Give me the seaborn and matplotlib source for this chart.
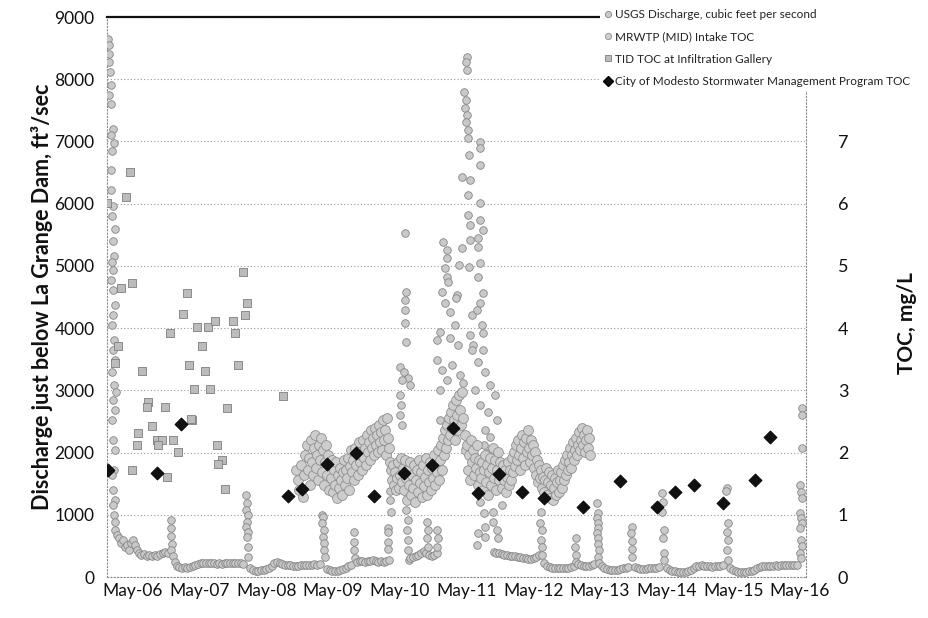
import numpy as np
import matplotlib
matplotlib.use("Agg")
import matplotlib.pyplot as plt
from matplotlib.lines import Line2D
import seaborn as sns

sns.set_theme(style="white")
plt.rcParams["font.family"] = ["Lato", "DejaVu Sans"]

# ---------------- data (decimal years) ----------------
tick_years = [2006, 2007, 2008, 2009, 2010, 2011, 2012, 2013, 2014, 2015, 2016]
tick_labels = ["May-06", "May-07", "May-08", "May-09", "May-10", "May-11",
               "May-12", "May-13", "May-14", "May-15", "May-16"]

# USGS discharge, cfs
flow_06_yr = [2005.96, 2005.97, 2005.98, 2005.97, 2005.99, 2006.00, 2005.98, 2006.01, 2006.03, 2006.01,
              2006.05, 2006.02, 2006.00, 2006.01, 2006.04, 2006.02, 2006.06, 2006.03, 2006.05, 2006.02,
              2006.04, 2006.01, 2006.03, 2006.06, 2006.04, 2006.02, 2006.05, 2006.03, 2006.06, 2006.02,
              2006.05, 2006.08, 2006.03, 2006.06, 2006.02, 2006.04, 2006.07, 2006.05, 2006.02, 2006.04,
              2006.06,
              2006.04, 2006.05, 2006.06, 2006.07, 2006.09, 2006.12, 2006.15, 2006.18, 2006.21, 2006.24,
              2006.27, 2006.30, 2006.33, 2006.36, 2006.39,
              2006.42, 2006.46, 2006.50, 2006.54, 2006.58, 2006.62, 2006.66, 2006.70, 2006.74, 2006.78,
              2006.82, 2006.86,
              2006.90, 2006.91, 2006.90, 2006.92, 2006.91, 2006.93]
flow_06_cfs = [8650, 8550, 8400, 8280, 8120, 7900, 7750, 7600, 7200, 7100,
               6980, 6850, 6540, 6220, 5960, 5800, 5590, 5400, 5160, 5060,
               4930, 4770, 4610, 4370, 4210, 4050, 3810, 3650, 3490, 3290,
               3090, 2970, 2840, 2680, 2520, 2200, 2040, 1720, 1640, 1400,
               1240,
               1160, 1000, 880, 760, 670, 630, 550, 600, 480, 510,
               430, 550, 600, 510, 430,
               390, 350, 370, 340, 355, 340, 355, 345, 370, 390,
               400, 380,
               920, 790, 660, 530, 430, 340]

flow_07_yr = [2006.96, 2006.99, 2007.03, 2007.07, 2007.11, 2007.15, 2007.19, 2007.23, 2007.27, 2007.31,
              2007.35, 2007.39, 2007.43, 2007.47,
              2007.51, 2007.55, 2007.59, 2007.63, 2007.67, 2007.71, 2007.75, 2007.79, 2007.83, 2007.87,
              2007.91, 2007.95, 2007.99,
              2008.03, 2008.04, 2008.03, 2008.05, 2008.04, 2008.03, 2008.05, 2008.04, 2008.05, 2008.06]
flow_07_cfs = [240, 180, 160, 145, 160, 145, 160, 175, 190, 210,
               225, 230, 220, 230,
               220, 225, 215, 225, 215, 225, 230, 220, 225, 230,
               220, 230, 215,
               1320, 1190, 1080, 1000, 880, 800, 720, 640, 480, 320]

flow_08_yr = [2008.09, 2008.13, 2008.17, 2008.21, 2008.25, 2008.29, 2008.33, 2008.37, 2008.41, 2008.45,
              2008.49, 2008.53, 2008.57, 2008.61,
              2008.65, 2008.69, 2008.73, 2008.77, 2008.81, 2008.85, 2008.89, 2008.93, 2008.97, 2009.01,
              2009.05, 2009.09, 2009.13,
              2009.17, 2009.18, 2009.17, 2009.19, 2009.18, 2009.20, 2009.19, 2009.21]
flow_08_cfs = [145, 110, 100, 100, 110, 110, 125, 145, 180, 225,
               240, 225, 210, 190,
               190, 195, 180, 180, 180, 185, 190, 190, 195, 200,
               205, 200, 210,
               1000, 960, 870, 760, 640, 550, 430, 320]

flow_09_yr = [2009.24, 2009.28, 2009.32, 2009.36, 2009.40, 2009.44, 2009.48, 2009.52, 2009.56, 2009.60,
              2009.64, 2009.65, 2009.64, 2009.66,
              2009.69, 2009.73, 2009.77, 2009.81, 2009.85, 2009.89, 2009.93, 2009.97, 2010.01, 2010.05,
              2010.09, 2010.13,
              2010.15, 2010.16, 2010.15, 2010.16, 2010.17]
flow_09_cfs = [130, 110, 100, 95, 100, 110, 130, 150, 175, 195,
               720, 560, 430, 300,
               240, 255, 255, 240, 255, 255, 270, 255, 240, 255,
               240, 250,
               790, 730, 570, 450, 270]

flow_10_yr = [2010.19, 2010.18, 2010.20, 2010.33, 2010.35, 2010.33, 2010.36, 2010.33, 2010.39, 2010.45,
              2010.36, 2010.48,
              2010.41, 2010.42, 2010.41, 2010.41, 2010.41, 2010.42, 2010.44, 2010.43, 2010.45, 2010.44,
              2010.46, 2010.45, 2010.47,
              2010.49, 2010.53, 2010.57, 2010.61, 2010.65, 2010.69, 2010.73, 2010.77, 2010.81, 2010.85,
              2010.89,
              2010.74, 2010.75, 2010.74, 2010.76, 2010.89, 2010.90, 2010.89]
flow_10_cfs = [1380, 1240, 1050, 2920, 2760, 2600, 2440, 3370, 3290, 3200,
               3170, 3090,
               5530, 4580, 4450, 4290, 4080, 3780, 1240, 1080, 920, 760,
               600, 440, 280,
               305, 320, 340, 350, 385, 420, 390, 350, 340, 360,
               380,
               880, 760, 630, 480, 760, 630, 480]

flow_11_yr = [2011.34, 2011.33, 2011.34, 2011.30, 2011.33, 2011.31, 2011.34, 2011.33, 2011.36, 2011.36,
              2011.54, 2011.54, 2011.37, 2011.54, 2011.27, 2011.39, 2011.36, 2011.54, 2011.36, 2011.39,
              2011.54, 2011.58, 2011.51, 2011.39, 2010.98, 2011.04, 2011.27, 2011.51, 2011.04, 2011.01,
              2011.04, 2011.22, 2011.37, 2011.54, 2011.51, 2011.06, 2010.97, 2011.19, 2011.18, 2011.01,
              2011.58, 2011.54, 2011.42, 2011.09, 2011.16, 2011.57, 2011.58, 2010.94, 2011.09, 2011.39,
              2011.49, 2010.89, 2011.21, 2011.43, 2011.58, 2010.89, 2010.97, 2011.04, 2011.12, 2011.24,
              2011.28, 2011.42, 2011.51, 2011.61, 2011.69, 2011.76, 2011.46, 2010.94, 2010.94, 2011.54,
              2011.66, 2011.79, 2011.61, 2011.69, 2011.60, 2011.64, 2011.58, 2011.54, 2011.60, 2011.61,
              2011.61, 2011.73, 2011.73, 2011.79, 2011.80, 2011.87, 2011.49, 2011.51]
flow_11_cfs = [8360, 8280, 8150, 7790, 7670, 7540, 7420, 7310, 7180, 7050,
               6990, 6890, 6780, 6620, 6430, 6380, 6140, 6010, 5820, 5660,
               5740, 5580, 5450, 5420, 5380, 5250, 5290, 5300, 5130, 4970,
               4820, 5010, 4980, 5050, 4820, 4740, 4580, 4530, 4480, 4400,
               4560, 4400, 4210, 4260, 4050, 4050, 3920, 3940, 3840, 3890,
               4290, 3810, 3730, 3730, 3650, 3490, 3330, 3170, 3410, 3250,
               3120, 3650, 3460, 3290, 3090, 2920, 3000, 3000, 2520, 2760,
               2650, 2520, 2360, 2250, 2120, 1990, 1560, 1210, 1030, 800,
               640, 1050, 880, 760, 630, 1160, 510, 710]

flow_12_yr = [2011.74, 2011.78, 2011.82, 2011.86, 2011.90, 2011.94, 2011.98, 2012.02, 2012.06, 2012.10,
              2012.14, 2012.18, 2012.22, 2012.26, 2012.30, 2012.34, 2012.38, 2012.42,
              2012.45, 2012.44, 2012.46, 2012.45, 2012.47, 2012.46,
              2012.50, 2012.54, 2012.58, 2012.62, 2012.66, 2012.70, 2012.74, 2012.78, 2012.82, 2012.86,
              2012.90, 2012.94,
              2012.97, 2012.96, 2012.98, 2012.97,
              2013.01, 2013.05, 2013.09, 2013.13, 2013.17, 2013.21, 2013.25]
flow_12_cfs = [400, 385, 390, 370, 360, 350, 345, 335, 330, 320,
               325, 310, 300, 295, 290, 300, 320, 350,
               1050, 870, 750, 600, 480, 350,
               225, 180, 160, 145, 140, 145, 140, 150, 145, 150,
               160, 180,
               630, 480, 350, 240,
               210, 195, 180, 180, 180, 195, 210]

flow_13_yr = [2013.29, 2013.30, 2013.29, 2013.31, 2013.30, 2013.29, 2013.31, 2013.30, 2013.32, 2013.31,
              2013.32,
              2013.36, 2013.40, 2013.44, 2013.48, 2013.52, 2013.56, 2013.60, 2013.64, 2013.68, 2013.72,
              2013.76,
              2013.81, 2013.80, 2013.82, 2013.81, 2013.82,
              2013.86, 2013.90, 2013.94, 2013.98, 2014.02, 2014.06, 2014.10, 2014.14, 2014.18, 2014.22,
              2014.27, 2014.28, 2014.27, 2014.29, 2014.28, 2014.29, 2014.30]
flow_13_cfs = [1190, 1030, 950, 870, 790, 700, 620, 530, 430, 320,
               220,
               180, 150, 130, 120, 110, 110, 120, 130, 145, 150,
               160,
               800, 700, 580, 450, 320,
               160, 145, 135, 130, 135, 140, 145, 145, 150, 160,
               1350, 1200, 1040, 750, 630, 390, 270]

flow_14_yr = [2014.34, 2014.38, 2014.42, 2014.46, 2014.50, 2014.54, 2014.58, 2014.62, 2014.66, 2014.70,
              2014.74, 2014.78, 2014.82, 2014.86, 2014.90,
              2014.94, 2014.98, 2015.02, 2015.06, 2015.10, 2015.14, 2015.18,
              2015.24, 2015.23, 2015.25, 2015.24, 2015.25, 2015.24, 2015.26,
              2015.29, 2015.33, 2015.37, 2015.41, 2015.45, 2015.49, 2015.53, 2015.57, 2015.61, 2015.65,
              2015.69, 2015.73, 2015.77, 2015.81, 2015.85,
              2015.89, 2015.93, 2015.97, 2016.01, 2016.05, 2016.09, 2016.13, 2016.17, 2016.21, 2016.25,
              2016.29,
              2016.36, 2016.37, 2016.36, 2016.34, 2016.35, 2016.36, 2016.34, 2016.35, 2016.36, 2016.34,
              2016.35, 2016.36, 2016.34, 2016.35]
flow_14_cfs = [145, 110, 95, 90, 85, 80, 80, 85, 90, 110,
               140, 170, 180, 185, 180,
               175, 170, 165, 170, 175, 180, 185,
               1430, 1380, 870, 720, 600, 430, 270,
               145, 110, 95, 80, 75, 75, 80, 90, 100, 120,
               140, 160, 175, 180, 180,
               175, 180, 185, 180, 185, 190, 190, 195, 190, 190,
               195,
               2720, 2600, 2070, 1480, 1370, 1270, 1030, 950, 870, 780,
               600, 500, 390, 300]

# MRWTP (MID) intake TOC, mg/L - regular samples starting at mrwtp_start
mrwtp_start = 2008.775
mrwtp_step = 0.015
nan = float("nan")
mrwtp_toc = [1.72, nan, 1.56, 1.40, nan, 1.80, nan, 1.29, 1.64, 1.96,
             nan, 2.12, 1.72, 1.91, 1.48, 2.20, 1.85, 1.64, 2.07, 2.28,
             1.75, 1.96, 1.56, 2.12, 1.88, 2.23, 1.69, 2.04, 1.48, 1.85,
             2.12, 1.64, 1.96, 1.40, 1.80, 1.59, 1.88, 1.37, 1.72, 1.48,
             1.85, 1.27, 1.64, 1.43, 1.75, 1.56, 1.32, 1.69, 1.88, 1.48,
             1.72, 1.59, 1.91, 1.40, 1.78, 2.04, 1.69, 1.88, 1.56, 2.07,
             1.80, 2.01, 1.64, 2.17, 1.85, 1.96, 1.72, 2.20, 1.91, 2.07,
             1.80, 2.28, 2.01, 2.17, 1.88, 2.36, 2.07, 2.23, 1.96, 2.39,
             2.12, 2.28, 2.01, 2.44, 2.17, 2.33, 2.04, 2.52, 2.20, 2.36,
             1.96, 2.56, 2.23, 2.07, 1.85, 1.72, 1.56, 1.80, 1.48, 1.69,
             1.40, 1.59, 1.85, 1.43, 1.64, 1.91, 1.53, 1.75, 1.40, 1.88,
             1.59, 1.24, 1.72, 1.48, 1.85, 1.32, 1.64, 1.43, 1.80, 1.21,
             1.56, 1.72, 1.37, 1.88, 1.51, 1.69, 1.29, 1.80, 1.46, 1.61,
             1.91, 1.32, 1.72, 1.53, 1.85, 1.40, 1.75, 1.59, 1.96, 1.48,
             1.80, 1.69, 2.04, 1.56, 1.88, 2.12, 1.72, 2.23, 1.96, 2.36,
             2.07, 2.44, 2.20, 2.56, 2.28, 2.65, 2.39, 2.77, 2.52, 2.20,
             2.85, 2.60, 2.36, 2.93, 2.68, 2.44, 2.97, 2.56, nan, 2.28,
             2.04, 2.12, 1.72, 1.96, 1.56, 2.20, 1.85, 2.04, 1.64, 1.91,
             1.75, 2.12, 1.48, 1.88, 1.69, 1.59, 1.85, 1.40, 1.72, 1.96,
             1.53, 1.80, 1.32, 1.69, 1.91, 1.48, 1.75, 2.07, 1.59, 1.88,
             1.40, 1.72, 2.01, 1.56, 1.85, 1.64, 1.43, 1.80, 1.56, 1.72,
             1.37, 1.61, 1.85, 1.48, 1.72, 1.56, 1.91, 1.69, 2.01, 1.78,
             2.12, 1.88, 2.20, 1.96, 1.72, 2.07, 2.28, 1.91, 2.17, 1.80,
             2.23, 2.01, 2.36, 2.07, 1.85, 2.20, 1.96, 2.12, 1.75, 2.01,
             1.64, 1.88, 1.53, 1.80, 1.59, 1.72, 1.43, 1.61, 1.37, 1.56,
             1.75, 1.32, 1.53, 1.69, 1.27, 1.48, 1.64, 1.24, 1.43, 1.59,
             1.32, 1.53, 1.72, 1.37, 1.56, 1.69, 1.43, 1.80, 1.56, 1.88,
             1.64, 1.96, 1.72, 1.85, 2.07, 1.75, 1.96, 2.17, 1.88, 2.04,
             2.23, 1.96, 2.12, 2.33, 2.04, 2.20, 2.39, 2.12, 2.28, 2.01,
             2.20, 2.36, 2.07, 2.23, 1.96]

# TID TOC at infiltration gallery, mg/L
tid_yr = [2005.95, 2006.29, 2006.23, 2006.32, 2006.16, 2007.14, 2007.98, 2008.04, 2008.01, 2007.08,
          2007.29, 2007.46, 2007.56, 2007.83, 2007.86, 2006.89, 2007.37, 2006.11, 2007.91, 2007.17,
          2007.41, 2006.47, 2006.06, 2007.25, 2007.49, 2008.58, 2006.56, 2006.54, 2006.81, 2007.74,
          2007.22, 2006.62, 2006.41, 2006.69, 2006.77, 2006.93, 2006.39, 2006.71, 2007.01, 2007.59,
          2007.67, 2007.61, 2006.32, 2006.84, 2007.71, 2007.20]
tid_toc = [6.01, 6.51, 6.11, 4.72, 4.64, 4.56, 4.90, 4.40, 4.21, 4.23,
           4.02, 4.02, 4.11, 4.11, 3.92, 3.92, 3.71, 3.71, 3.41, 3.41,
           3.31, 3.31, 3.44, 3.02, 3.02, 2.91, 2.81, 2.73, 2.73, 2.72,
           2.52, 2.43, 2.31, 2.20, 2.20, 2.20, 2.12, 2.12, 2.01, 2.12,
           1.88, 1.82, 1.72, 1.61, 1.41, 2.54]

# City of Modesto Stormwater Management Program TOC, mg/L
city_yr = [2005.96, 2006.70, 2007.06, 2008.65, 2008.86, 2009.24, 2009.67, 2009.94, 2010.39, 2010.81,
           2011.13, 2011.50, 2011.82, 2012.16, 2012.49, 2013.08, 2013.63, 2014.19, 2014.46, 2014.74,
           2015.18, 2015.66, 2015.88]
city_toc = [1.72, 1.67, 2.46, 1.30, 1.41, 1.82, 1.99, 1.30, 1.67, 1.80,
            2.39, 1.35, 1.65, 1.37, 1.27, 1.125, 1.54, 1.125, 1.37, 1.48,
            1.19, 1.56, 2.25]

labels = ["USGS Discharge, cubic feet per second", "MRWTP (MID) Intake TOC",
          "TID TOC at Infiltration Gallery",
          "City of Modesto Stormwater Management Program TOC"]

# ---------------- assemble ----------------
flow_yr = np.concatenate([flow_06_yr, flow_07_yr, flow_08_yr, flow_09_yr, flow_10_yr,
                          flow_11_yr, flow_12_yr, flow_13_yr, flow_14_yr])
flow_cfs = np.concatenate([flow_06_cfs, flow_07_cfs, flow_08_cfs, flow_09_cfs, flow_10_cfs,
                           flow_11_cfs, flow_12_cfs, flow_13_cfs, flow_14_cfs])
mrwtp_yr = mrwtp_start + mrwtp_step * np.arange(len(mrwtp_toc))

# ---------------- figure ----------------
W, H = 929, 618
fig = plt.figure(figsize=(W / 100, H / 100), dpi=100)
fig.patch.set_facecolor("white")
L, R, T, B = 107, 806, 17, 577
ax = fig.add_axes([L / W, 1 - B / H, (R - L) / W, (B - T) / H])
ax2 = ax.twinx()

flow_fc, flow_ec = "#c9c9c9", "#858585"
mr_fc, mr_ec = "#cdcdcd", "#8f8f8f"
tid_fc, tid_ec = "#bcbcbc", "#7e7e7e"
sns.scatterplot(x=flow_yr, y=flow_cfs, ax=ax, marker="o", s=30, color=flow_fc,
                edgecolor=flow_ec, linewidth=0.6, legend=False, zorder=3)
sns.scatterplot(x=mrwtp_yr, y=mrwtp_toc, ax=ax2, marker="o", s=50, color=mr_fc,
                edgecolor=mr_ec, linewidth=0.6, legend=False, zorder=3)
sns.scatterplot(x=tid_yr, y=tid_toc, ax=ax2, marker="s", s=34, color=tid_fc,
                edgecolor=tid_ec, linewidth=0.6, legend=False, zorder=4)
sns.scatterplot(x=city_yr, y=city_toc, ax=ax2, marker="D", s=44, color="#111111",
                edgecolor="#000000", linewidth=0.6, legend=False, zorder=5)

xmin = 2006 + 4 / 12 - (133 - L) / 66.7
xmax = 2006 + 4 / 12 + (R - 133) / 66.7
ax.set_xlim(xmin, xmax)
ax.set_ylim(0, 9000)
ax2.set_ylim(0, 9)

ax.set_xticks([y + 4 / 12 for y in tick_years])
ax.set_xticklabels(tick_labels, fontsize=12.5, color="#111111")
ax.set_yticks(range(0, 9001, 1000))
ax.set_yticklabels([str(v) for v in range(0, 9001, 1000)], fontsize=12.5, color="#111111")
ax2.set_yticks(range(0, 8))
ax2.set_yticklabels([str(v) for v in range(0, 8)], fontsize=13, color="#111111")
ax.tick_params(axis="y", length=0, pad=9)
ax.tick_params(axis="x", length=0, pad=4)
ax2.tick_params(axis="y", length=0, pad=23)

ax.yaxis.grid(True, linestyle=(0, (1, 2)), color="#9a9a9a", linewidth=0.8)
ax.xaxis.grid(False)
ax.set_axisbelow(True)
for side in ("left", "bottom", "right"):
    ax.spines[side].set_linestyle((0, (1, 2)))
    ax.spines[side].set_color("#8a8a8a")
    ax.spines[side].set_linewidth(0.8)
ax.spines["top"].set_color("#111111")
ax.spines["top"].set_linewidth(1.6)
for side in ax2.spines:
    ax2.spines[side].set_visible(False)

ax.set_ylabel("Discharge just below La Grange Dam, ft\u00b3/sec", fontsize=15.5,
              fontweight="bold", color="#111111")
ax.yaxis.set_label_coords(-0.077, 0.5)
ax2.set_ylabel("TOC, mg/L", fontsize=15, fontweight="bold", color="#111111")
ax2.yaxis.set_label_coords(1.130, 0.454)

handles = [
    Line2D([], [], linestyle="none", marker="o", markersize=4.5, markerfacecolor=flow_fc,
           markeredgecolor=flow_ec, markeredgewidth=0.6),
    Line2D([], [], linestyle="none", marker="o", markersize=4.5, markerfacecolor=mr_fc,
           markeredgecolor=mr_ec, markeredgewidth=0.6),
    Line2D([], [], linestyle="none", marker="s", markersize=5, markerfacecolor=tid_fc,
           markeredgecolor=tid_ec, markeredgewidth=0.6),
    Line2D([], [], linestyle="none", marker="D", markersize=5.5, markerfacecolor="#111111",
           markeredgecolor="#000000"),
]
leg = fig.legend(handles, labels, loc="upper left", bbox_to_anchor=(600 / W, 1 - 5 / H),
                 frameon=True, facecolor="white", edgecolor="none", framealpha=1,
                 fontsize=8.5, handlelength=0.7, handletextpad=0.25, labelspacing=0.95,
                 borderpad=0.35, borderaxespad=0)
for t in leg.get_texts():
    t.set_color("#222222")

fig.savefig("out.png", dpi=100, facecolor="white")
